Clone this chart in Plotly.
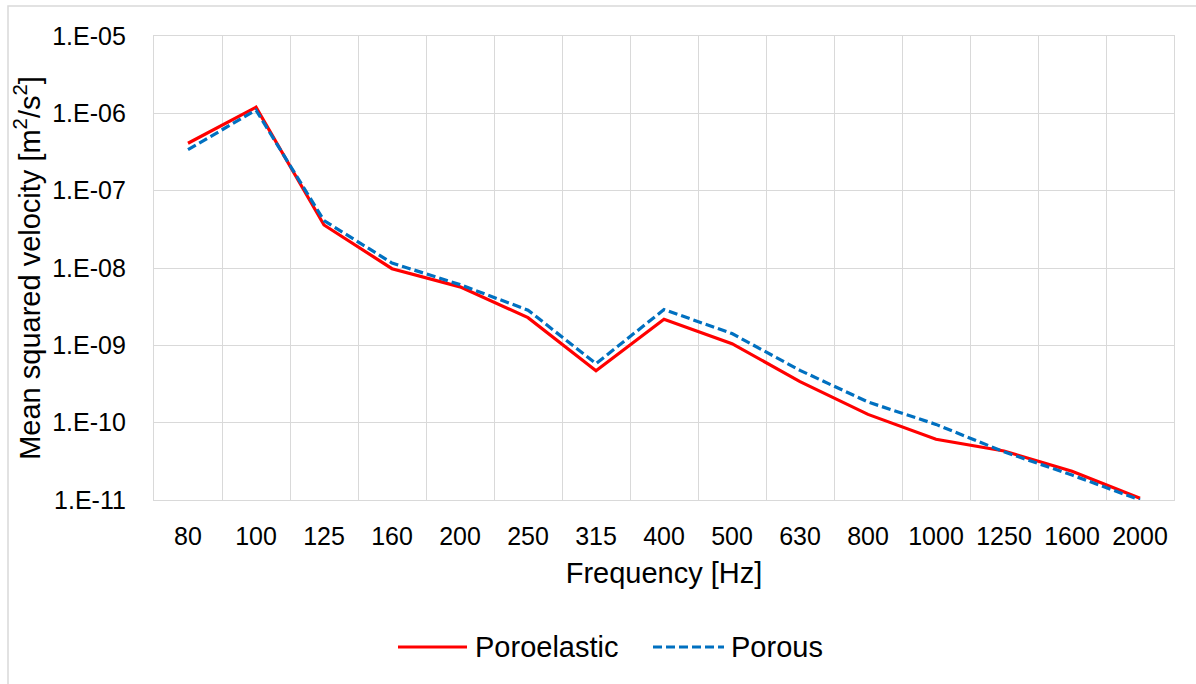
import plotly.graph_objects as go

frequencies = ["80", "100", "125", "160", "200", "250", "315", "400", "500",
               "630", "800", "1000", "1250", "1600", "2000"]
poroelastic = [4.1e-7, 1.2e-6, 3.6e-8, 9.8e-9, 5.7e-9, 2.28e-9, 4.7e-10, 2.17e-9,
               1.05e-9, 3.4e-10, 1.28e-10, 6.1e-11, 4.3e-11, 2.35e-11, 1.05e-11]
porous = [3.4e-7, 1.1e-6, 4.1e-8, 1.16e-8, 6.1e-9, 2.85e-9, 5.8e-10, 2.9e-9,
          1.42e-9, 4.75e-10, 1.85e-10, 9.5e-11, 4.2e-11, 2.1e-11, 1.0e-11]
y_tick_vals = [1e-11, 1e-10, 1e-9, 1e-8, 1e-7, 1e-6, 1e-5]
y_tick_text = ["1.E-11", "1.E-10", "1.E-09", "1.E-08", "1.E-07", "1.E-06", "1.E-05"]

FONT = "Liberation Sans, Arial, sans-serif"
GRID = "#D9D9D9"
RED = "#FF0000"
BLUE = "#0070C0"
DASH = "9px,4px"

fig = go.Figure()
fig.add_trace(go.Scatter(x=frequencies, y=poroelastic, mode="lines", name="Poroelastic",
                         line=dict(color=RED, width=3.2), showlegend=False))
fig.add_trace(go.Scatter(x=frequencies, y=porous, mode="lines", name="Porous",
                         line=dict(color=BLUE, width=3.2, dash=DASH), showlegend=False))

W, H = 1196, 684
L, R, T, B = 154, 22, 36, 184
pw, ph = W - L - R, H - T - B


def px(x):
    return (x - L) / pw


def py(y):
    return (H - B - y) / ph


legend_y = 647
legend_items = [("Poroelastic", RED, "solid", 398, 467, 473),
                ("Porous", BLUE, DASH, 653, 724, 729)]
shapes = [dict(type="rect", xref="paper", yref="paper",
               x0=px(8), x1=1.2, y0=-0.6, y1=py(6),
               line=dict(color=GRID, width=1.5), fillcolor="rgba(0,0,0,0)", layer="below")]
annotations = []
for name, color, dash, x0, x1, xt in legend_items:
    shapes.append(dict(type="line", xref="paper", yref="paper",
                       x0=px(x0), x1=px(x1), y0=py(legend_y), y1=py(legend_y),
                       line=dict(color=color, width=3.2, dash=dash)))
    annotations.append(dict(text=name, xref="paper", yref="paper", x=px(xt), y=py(legend_y),
                            xanchor="left", yanchor="middle", showarrow=False,
                            font=dict(size=29, family=FONT, color="#000000")))

fig.update_layout(
    width=W, height=H,
    margin=dict(l=L, r=R, t=T, b=B, autoexpand=False),
    paper_bgcolor="white", plot_bgcolor="white",
    font=dict(family=FONT, color="#000000", size=25),
    showlegend=False,
    xaxis=dict(type="category", range=[-0.5, 14.5], tickson="boundaries",
               showgrid=True, gridcolor=GRID, gridwidth=1.3,
               showline=True, mirror=True, linecolor=GRID, linewidth=1.3,
               ticks="", ticklabelstandoff=14,
               tickfont=dict(size=25, family=FONT),
               title=dict(text="Frequency [Hz]", font=dict(size=29, family=FONT), standoff=13)),
    yaxis=dict(type="log", range=[-11, -5], tickvals=y_tick_vals, ticktext=y_tick_text,
               showgrid=True, gridcolor=GRID, gridwidth=1.3,
               showline=True, mirror=True, linecolor=GRID, linewidth=1.3,
               ticks="", ticklabelstandoff=22, zeroline=False,
               tickfont=dict(size=25, family=FONT),
               title=dict(text="Mean squared velocity [m<sup>2</sup>/s<sup>2</sup>]",
                          font=dict(size=29, family=FONT), standoff=3)),
    shapes=shapes,
    annotations=annotations,
)

fig.write_html("out.html")
